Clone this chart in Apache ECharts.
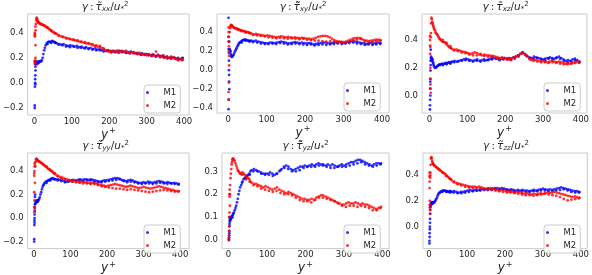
<!DOCTYPE html>
<html>
<head>
<meta charset="utf-8">
<script src="https://cdn.jsdelivr.net/npm/echarts@6/dist/echarts.min.js"></script>
<style>
  html, body { margin: 0; padding: 0; background: #fff; }
  #chart { width: 592px; height: 275px; }
</style>
</head>
<body>
<div id="chart"></div>
<script>
// y+ positions of the main strand and of the second strand
const yPlusA = [4,5,6,7,8,9,10,11,12,14,16,18,20,22,24,26,28,30,33,36,39,42,45,48,51,54,57,60,
    66,72,78,84,90,96,102,108,114,120,126,132,138,144,150,156,162,168,174,180,186,192,198,204,210,216,222,228,
    234,240,246,252,258,264,270,276,282,288,294,300,306,312,318,324,330,336,342,348,354,360,366,372,378,384,390,396];
const yPlusB = [35,45,55,65,75,85,95,105,115,125,135,145,155,165,175,185,195,205,215,225,235,245,255,265,275,285,
    295,305,315,325,335,345,355,365,375,385,395];

// tau_xx
const xxM1 = [0.16,0.15,0.17,0.16,0.15,0.16,0.17,0.16,0.165,0.17,0.175,0.17,0.18,0.2,0.23,0.26,0.28,0.3,0.315,0.325,0.33,0.325,0.33,0.335,0.33,0.325,0.32,0.315,
    0.31,0.305,0.31,0.3,0.295,0.3,0.295,0.29,0.295,0.285,0.29,0.28,0.285,0.275,0.28,0.27,0.275,0.265,0.27,0.26,0.265,0.255,0.26,0.25,0.255,0.245,0.25,0.255,
    0.245,0.25,0.24,0.245,0.25,0.24,0.235,0.24,0.23,0.235,0.225,0.23,0.225,0.22,0.225,0.215,0.22,0.21,0.215,0.205,0.21,0.2,0.205,0.2,0.195,0.2,0.19,0.2];
const xxM1b = [0.31,0.32,0.32,0.305,0.3,0.29,0.285,0.29,0.28,0.28,0.275,0.27,0.265,0.26,0.26,0.25,0.255,0.245,0.25,0.24,0.25,0.24,0.235,0.24,0.23,0.225,
    0.23,0.22,0.225,0.21,0.215,0.205,0.2,0.195,0.2,0.19,0.195];
const xxM1w = [[1,-0.2],[1,-0.18],[1.5,-0.03],[2,0],[2,0.03],[2.5,0.06],[3,0.1],[3,0.13],[3.5,0.16],[2,0.17],[1.5,0.15],[2.5,-0.01]];
const xxM2 = [0.47,0.5,0.52,0.515,0.5,0.49,0.485,0.48,0.48,0.475,0.47,0.47,0.465,0.465,0.46,0.46,0.455,0.45,0.445,0.44,0.43,0.425,0.415,0.41,0.405,0.4,0.395,0.39,
    0.38,0.37,0.365,0.36,0.355,0.35,0.345,0.34,0.335,0.33,0.325,0.32,0.315,0.315,0.31,0.3,0.295,0.29,0.285,0.28,0.265,0.255,0.25,0.255,0.25,0.245,0.26,0.25,
    0.255,0.245,0.25,0.24,0.245,0.235,0.24,0.23,0.24,0.225,0.23,0.22,0.225,0.215,0.22,0.21,0.225,0.205,0.215,0.2,0.21,0.2,0.195,0.205,0.19,0.18,0.19,0.185];
const xxM2b = [0.44,0.42,0.395,0.375,0.37,0.355,0.35,0.345,0.34,0.33,0.325,0.315,0.31,0.3,0.295,0.275,0.26,0.245,0.255,0.245,0.25,0.255,0.24,0.245,0.235,0.23,
    0.225,0.23,0.215,0.25,0.21,0.22,0.195,0.21,0.195,0.185,0.18];
const xxM2w = [[1,0.38],[1,0.4],[1.5,0.37],[2,0.39],[1,0.17],[1.5,0.16],[2,0.18],[2.5,0.15],[3,0.2],[3,0.3],[3.5,0.42],[2.5,0.45]];

// tau_xy
const xyM1 = [0.22,0.2,0.2,0.17,0.15,0.14,0.14,0.145,0.15,0.16,0.18,0.2,0.215,0.23,0.25,0.265,0.28,0.29,0.3,0.31,0.315,0.32,0.32,0.315,0.31,0.31,0.305,0.31,
    0.305,0.31,0.3,0.295,0.29,0.285,0.28,0.29,0.29,0.285,0.29,0.295,0.3,0.295,0.29,0.28,0.285,0.29,0.295,0.29,0.285,0.29,0.285,0.28,0.285,0.28,0.27,0.275,
    0.28,0.285,0.29,0.29,0.285,0.28,0.285,0.29,0.29,0.295,0.29,0.285,0.29,0.295,0.3,0.305,0.3,0.295,0.29,0.285,0.28,0.275,0.28,0.285,0.28,0.285,0.29,0.285];
const xyM1b = [0.29,0.31,0.3,0.295,0.29,0.28,0.275,0.275,0.28,0.275,0.285,0.28,0.27,0.275,0.28,0.275,0.27,0.265,0.27,0.26,0.265,0.27,0.265,0.27,0.275,0.28,
    0.275,0.28,0.285,0.29,0.28,0.275,0.265,0.27,0.265,0.27,0.275];
const xyM1w = [[1,0.55],[1,0.35],[1.5,0.3],[1.5,0.22],[2,0.1],[2,0],[2.5,-0.05],[2.5,-0.12],[3,-0.2],[1,-0.41],[1.5,-0.31],[2,0.18]];
const xyM2 = [0.4,0.44,0.46,0.47,0.475,0.47,0.465,0.46,0.455,0.45,0.445,0.44,0.44,0.435,0.43,0.43,0.425,0.42,0.42,0.415,0.41,0.41,0.405,0.4,0.4,0.395,0.39,0.385,
    0.375,0.38,0.375,0.37,0.365,0.36,0.365,0.36,0.355,0.35,0.345,0.35,0.355,0.35,0.345,0.35,0.345,0.34,0.345,0.34,0.335,0.34,0.335,0.33,0.33,0.325,0.33,0.34,
    0.35,0.355,0.36,0.36,0.355,0.345,0.33,0.315,0.305,0.3,0.3,0.295,0.3,0.31,0.32,0.33,0.335,0.34,0.335,0.325,0.315,0.31,0.305,0.31,0.315,0.32,0.32,0.315];
const xyM2b = [0.41,0.395,0.39,0.37,0.365,0.36,0.355,0.345,0.34,0.335,0.34,0.335,0.33,0.335,0.33,0.325,0.33,0.32,0.315,0.31,0.31,0.305,0.3,0.305,0.3,0.295,
    0.29,0.29,0.3,0.31,0.32,0.33,0.3,0.295,0.3,0.305,0.31];
const xyM2w = [[1,0.45],[1,0.4],[1.5,0.35],[1.5,0.3],[2,0.25],[2,0.2],[2.5,0.15],[1,-0.23],[1.5,-0.31],[2,-0.13],[2.5,0.05],[3,0.3]];

// tau_xz
const xzM1 = [0.28,0.26,0.27,0.25,0.26,0.24,0.23,0.22,0.21,0.2,0.2,0.205,0.21,0.215,0.22,0.225,0.22,0.225,0.23,0.225,0.23,0.235,0.23,0.235,0.24,0.235,0.24,0.245,
    0.25,0.245,0.25,0.255,0.26,0.265,0.26,0.255,0.25,0.255,0.26,0.25,0.255,0.26,0.255,0.26,0.265,0.27,0.27,0.265,0.26,0.265,0.27,0.265,0.27,0.265,0.275,0.28,
    0.29,0.3,0.31,0.3,0.285,0.275,0.27,0.28,0.275,0.27,0.265,0.26,0.265,0.27,0.275,0.27,0.265,0.275,0.28,0.27,0.26,0.25,0.255,0.25,0.26,0.265,0.255,0.245];
const xzM1b = [0.22,0.225,0.23,0.24,0.245,0.25,0.255,0.25,0.245,0.25,0.245,0.25,0.255,0.26,0.265,0.255,0.26,0.26,0.26,0.27,0.285,0.305,0.29,0.27,0.265,0.27,
    0.26,0.255,0.265,0.26,0.27,0.265,0.25,0.24,0.245,0.255,0.24];
const xzM1w = [[1,-0.1],[1,-0.07],[1.5,-0.03],[1.5,0.05],[2,0.1],[2,0.12],[2.5,0.18],[3,0.22],[3,0.33],[2,0],[2.5,0.25],[3.5,0.27]];
const xzM2 = [0.52,0.56,0.55,0.53,0.52,0.51,0.5,0.49,0.48,0.47,0.455,0.445,0.44,0.43,0.42,0.41,0.405,0.4,0.39,0.385,0.385,0.38,0.37,0.36,0.35,0.345,0.34,0.335,
    0.33,0.33,0.325,0.32,0.315,0.31,0.305,0.3,0.305,0.31,0.305,0.295,0.29,0.285,0.29,0.29,0.285,0.285,0.28,0.275,0.27,0.275,0.27,0.265,0.26,0.265,0.275,0.28,
    0.29,0.3,0.305,0.295,0.28,0.265,0.255,0.26,0.255,0.25,0.245,0.25,0.245,0.24,0.245,0.25,0.245,0.24,0.245,0.24,0.235,0.23,0.235,0.23,0.235,0.24,0.245,0.24];
const xzM2b = [0.4,0.38,0.355,0.325,0.32,0.31,0.305,0.295,0.29,0.29,0.3,0.295,0.28,0.28,0.27,0.265,0.265,0.26,0.255,0.265,0.28,0.31,0.29,0.26,0.25,0.245,
    0.24,0.24,0.235,0.24,0.235,0.23,0.225,0.225,0.23,0.235,0.235];
const xzM2w = [[1,0.43],[1,0.4],[1.5,0.36],[1.5,0.3],[2,0.2],[2,0.12],[2.5,0.08],[2.5,0.05],[3,0.02],[3,0.42],[3.5,0.45],[2,0.35]];

// tau_yy
const yyM1 = [0.12,0.14,0.13,0.14,0.15,0.14,0.15,0.14,0.15,0.16,0.175,0.2,0.22,0.245,0.265,0.28,0.29,0.3,0.31,0.315,0.32,0.325,0.33,0.335,0.34,0.335,0.33,0.33,
    0.33,0.325,0.32,0.315,0.31,0.315,0.32,0.325,0.32,0.325,0.33,0.325,0.33,0.33,0.325,0.33,0.325,0.32,0.315,0.31,0.315,0.32,0.32,0.325,0.33,0.335,0.34,0.34,
    0.335,0.325,0.32,0.315,0.32,0.325,0.32,0.31,0.305,0.3,0.3,0.305,0.3,0.31,0.305,0.3,0.305,0.31,0.315,0.31,0.305,0.3,0.305,0.3,0.295,0.3,0.295,0.29];
const yyM1b = [0.3,0.32,0.33,0.32,0.315,0.305,0.31,0.31,0.315,0.32,0.315,0.32,0.32,0.31,0.305,0.305,0.31,0.315,0.32,0.325,0.33,0.315,0.305,0.31,0.305,0.295,
    0.29,0.295,0.295,0.29,0.295,0.3,0.295,0.29,0.295,0.29,0.285];
const yyM1w = [[1,-0.2],[1,-0.18],[1.5,-0.06],[1.5,-0.02],[2,0],[2,0.03],[2.5,0.06],[2.5,0.09],[3,0.12],[3,0.18],[3.5,0.2],[2,-0.04]];
const yyM2 = [0.44,0.48,0.5,0.505,0.5,0.495,0.49,0.49,0.485,0.48,0.48,0.475,0.47,0.465,0.46,0.455,0.45,0.445,0.44,0.43,0.42,0.415,0.41,0.4,0.395,0.385,0.38,0.37,
    0.36,0.35,0.345,0.335,0.33,0.325,0.32,0.315,0.315,0.31,0.305,0.31,0.305,0.3,0.3,0.295,0.3,0.295,0.29,0.285,0.28,0.275,0.27,0.275,0.28,0.285,0.29,0.285,
    0.28,0.275,0.27,0.265,0.27,0.275,0.27,0.265,0.26,0.255,0.26,0.265,0.26,0.255,0.25,0.255,0.26,0.265,0.27,0.265,0.26,0.255,0.25,0.245,0.24,0.235,0.23,0.23];
const yyM2b = [0.435,0.405,0.38,0.355,0.34,0.33,0.32,0.31,0.305,0.3,0.295,0.295,0.29,0.29,0.28,0.27,0.265,0.26,0.255,0.25,0.25,0.245,0.24,0.245,0.24,0.235,
    0.23,0.225,0.22,0.225,0.23,0.235,0.24,0.235,0.23,0.225,0.225];
const yyM2w = [[1,0.38],[1,0.36],[1.5,0.4],[2,0.44],[1,0.22],[1.5,0.15],[2,0.1],[2.5,0.08],[3,0.3],[2.5,0.46],[3,0.47],[1.5,0.05]];

// tau_yz
const yzM1 = [0.085,0.09,0.1,0.095,0.1,0.105,0.1,0.11,0.115,0.12,0.13,0.14,0.15,0.165,0.18,0.2,0.215,0.23,0.24,0.255,0.265,0.27,0.275,0.28,0.285,0.29,0.3,0.305,
    0.31,0.305,0.3,0.295,0.29,0.29,0.29,0.295,0.29,0.285,0.29,0.3,0.31,0.32,0.325,0.32,0.31,0.305,0.31,0.315,0.32,0.32,0.325,0.32,0.325,0.33,0.325,0.33,
    0.335,0.33,0.33,0.325,0.33,0.325,0.33,0.325,0.32,0.325,0.33,0.325,0.33,0.335,0.34,0.34,0.345,0.35,0.35,0.345,0.34,0.335,0.33,0.325,0.33,0.335,0.335,0.335];
const yzM1b = [0.25,0.27,0.285,0.3,0.3,0.29,0.285,0.285,0.28,0.29,0.305,0.315,0.31,0.3,0.3,0.305,0.315,0.32,0.32,0.32,0.325,0.325,0.32,0.315,0.315,0.32,
    0.32,0.32,0.325,0.33,0.335,0.34,0.33,0.325,0.32,0.325,0.33];
const yzM1w = [[1,0],[1,0.005],[1.5,0.01],[1.5,0.02],[2,0.03],[2,0.04],[2.5,0.06],[2.5,0.07],[3,0.08],[3,0.1],[3.5,0.1],[3.5,0.09]];
const yzM2 = [0.24,0.27,0.29,0.31,0.33,0.34,0.35,0.355,0.355,0.35,0.345,0.335,0.325,0.315,0.305,0.3,0.295,0.29,0.29,0.295,0.29,0.285,0.28,0.275,0.27,0.265,0.255,0.25,
    0.245,0.245,0.24,0.235,0.23,0.235,0.23,0.225,0.22,0.225,0.23,0.22,0.215,0.21,0.205,0.21,0.205,0.2,0.195,0.19,0.185,0.18,0.18,0.175,0.175,0.18,0.175,0.185,
    0.19,0.195,0.195,0.19,0.185,0.18,0.175,0.17,0.165,0.16,0.155,0.155,0.16,0.165,0.16,0.16,0.165,0.16,0.155,0.16,0.155,0.155,0.15,0.145,0.14,0.135,0.14,0.145];
const yzM2b = [0.285,0.265,0.255,0.24,0.235,0.225,0.22,0.215,0.21,0.215,0.205,0.2,0.2,0.195,0.185,0.175,0.17,0.17,0.165,0.175,0.185,0.185,0.18,0.175,0.17,0.16,
    0.15,0.145,0.15,0.15,0.145,0.15,0.145,0.14,0.13,0.13,0.14];
const yzM2w = [[1,0],[1,0.01],[1.5,0.02],[1.5,0.04],[2,0.06],[2,0.1],[2.5,0.12],[2.5,0.19],[3,0.2],[3,0.22],[3.5,0.2],[3.5,0.15]];

// tau_zz
const zzM1 = [0.17,0.18,0.17,0.19,0.18,0.185,0.18,0.19,0.185,0.19,0.2,0.21,0.22,0.235,0.25,0.26,0.265,0.27,0.275,0.28,0.28,0.28,0.275,0.275,0.27,0.275,0.275,0.27,
    0.275,0.27,0.265,0.27,0.27,0.275,0.28,0.285,0.28,0.285,0.28,0.285,0.29,0.29,0.29,0.295,0.29,0.295,0.3,0.3,0.295,0.3,0.295,0.29,0.285,0.29,0.285,0.28,
    0.285,0.28,0.285,0.28,0.28,0.275,0.28,0.285,0.28,0.285,0.29,0.295,0.29,0.285,0.29,0.285,0.29,0.295,0.3,0.305,0.3,0.295,0.29,0.285,0.28,0.275,0.275,0.27];
const zzM1b = [0.27,0.27,0.265,0.265,0.26,0.26,0.265,0.27,0.275,0.28,0.28,0.285,0.285,0.29,0.29,0.29,0.29,0.285,0.28,0.275,0.275,0.275,0.27,0.27,0.275,0.275,
    0.28,0.28,0.275,0.275,0.28,0.285,0.29,0.28,0.27,0.265,0.265];
const zzM1w = [[1,-0.13],[1,-0.11],[1.5,-0.08],[1.5,-0.05],[2,-0.02],[2,0],[2.5,0.03],[2.5,0.06],[3,0.1],[3,0.13],[3.5,0.15],[3.5,0.16]];
const zzM2 = [0.48,0.53,0.54,0.53,0.51,0.5,0.49,0.485,0.48,0.475,0.47,0.465,0.46,0.455,0.45,0.445,0.44,0.435,0.43,0.42,0.415,0.41,0.4,0.39,0.385,0.375,0.37,0.36,
    0.35,0.34,0.335,0.33,0.325,0.32,0.315,0.31,0.31,0.31,0.305,0.31,0.305,0.3,0.295,0.3,0.3,0.295,0.29,0.285,0.28,0.285,0.28,0.275,0.27,0.275,0.27,0.265,
    0.27,0.265,0.26,0.255,0.26,0.255,0.25,0.255,0.25,0.255,0.26,0.255,0.26,0.265,0.26,0.265,0.27,0.265,0.26,0.255,0.25,0.245,0.24,0.235,0.23,0.235,0.23,0.225];
const zzM2b = [0.42,0.395,0.37,0.345,0.33,0.32,0.31,0.305,0.3,0.3,0.295,0.29,0.29,0.285,0.28,0.275,0.27,0.265,0.265,0.26,0.255,0.25,0.245,0.245,0.24,0.245,
    0.25,0.255,0.25,0.245,0.24,0.23,0.215,0.205,0.21,0.215,0.22];
const zzM2w = [[1,0.42],[1,0.39],[1.5,0.35],[1.5,0.3],[2,0.2],[2,0.15],[2.5,0.1],[2.5,0.13],[3,0.38],[3,0.4],[3.5,0.42],[2,0.17]];

// panel titles (component subscripts) and tick labels
const components = ["xx", "xy", "xz", "yy", "yz", "zz"];
const doubleTilde = [false, true, false, false, true, false];
const xTicks = [0, 100, 200, 300, 400];
const yTicks = [
    [-0.2, 0.0, 0.2, 0.4],
    [-0.4, -0.2, 0.0, 0.2, 0.4],
    [0.0, 0.2, 0.4],
    [-0.2, 0.0, 0.2, 0.4],
    [0.0, 0.1, 0.2, 0.3],
    [0.0, 0.2, 0.4],
];
const seriesM1 = [[xxM1, xxM1b, xxM1w], [xyM1, xyM1b, xyM1w], [xzM1, xzM1b, xzM1w], [yyM1, yyM1b, yyM1w], [yzM1, yzM1b, yzM1w], [zzM1, zzM1b, zzM1w]];
const seriesM2 = [[xxM2, xxM2b, xxM2w], [xyM2, xyM2b, xyM2w], [xzM2, xzM2b, xzM2w], [yyM2, yyM2b, yyM2w], [yzM2, yzM2b, yzM2w], [zzM2, zzM2b, zzM2w]];

// plot boxes in pixels [left, top, right, bottom] and axis ranges
const boxes = [
    [21, 14, 189, 115], [217, 14, 389, 113], [422, 14, 589, 113],
    [22, 153, 189, 255], [222, 153, 389, 255], [423, 153, 589, 255],
];
const xRanges = [[-18, 413], [-29, 418], [-20, 416], [-17, 424], [-17, 417], [-16, 417]];
const yRanges = [[-0.256, 0.55], [-0.45, 0.59], [-0.125, 0.587], [-0.26, 0.554], [-0.037, 0.38], [-0.17, 0.572]];

const FONT = "DejaVu Sans";
const INK = "#262626";

function points(main, second, wall) {
    const pts = wall.slice();
    main.forEach((v, i) => pts.push([yPlusA[i], v]));
    second.forEach((v, i) => pts.push([yPlusB[i], v]));
    return pts;
}

function fmt(v) {
    return v.toFixed(1).replace("-", "\u2212");
}

function buildOption() {
    const grid = [], xAxis = [], yAxis = [], series = [], title = [], legend = [];
    for (let i = 0; i < 6; i++) {
        const [l, t, r, b] = boxes[i];
        grid.push({ left: l, top: t, width: r - l, height: b - t, show: true, borderColor: "#cccccc", borderWidth: 1 });
        xAxis.push({
            gridIndex: i, type: "value", min: xRanges[i][0], max: xRanges[i][1],
            splitLine: { show: false }, axisLine: { show: false }, axisTick: { show: false },
            axisLabel: { customValues: xTicks, fontFamily: FONT, fontSize: 8.5, color: INK, margin: 2 },
            name: "{i|y}{s|+}", nameLocation: "middle", nameGap: 5,
            nameTextStyle: {
                rich: {
                    i: { fontFamily: FONT, fontStyle: "italic", fontSize: 12, color: INK },
                    s: { fontFamily: FONT, fontSize: 8, color: INK, verticalAlign: "top", padding: [0, 0, 7, 1] },
                },
            },
        });
        yAxis.push({
            gridIndex: i, type: "value", min: yRanges[i][0], max: yRanges[i][1],
            splitLine: { show: false }, axisLine: { show: false }, axisTick: { show: false },
            axisLabel: { customValues: yTicks[i], formatter: fmt, fontFamily: FONT, fontSize: 8.5, color: INK, margin: 4 },
        });
        const tau = doubleTilde[i] ? "\u03c4\u0303\u0303" : "\u03c4\u0303";
        const base = { fontFamily: FONT, fontWeight: "normal", color: INK };
        title.push({
            text: `{g|\u03b3}{n|\u2009:\u2009}{g|${tau}}{s|${components[i]}}{n|/}{g|u}{s|*}{p|2}`,
            left: (l + r) / 2, top: t - 13, textAlign: "center", padding: 0,
            textStyle: {
                fontWeight: "normal",
                rich: {
                    g: { ...base, fontStyle: "italic", fontSize: 10.5, lineHeight: 12 },
                    n: { ...base, fontSize: 10.5, lineHeight: 12 },
                    s: { ...base, fontStyle: "italic", fontSize: 7, verticalAlign: "bottom", lineHeight: 8, padding: [4, 0, 0, 0] },
                    p: { ...base, fontSize: 7, verticalAlign: "top", lineHeight: 8, padding: [0, 0, 2, 0] },
                },
            },
        });
        legend.push({
            data: ["M1", "M2"], orient: "vertical", left: r - 45, top: b - 30,
            itemWidth: 14, itemHeight: 3, itemGap: 4, padding: [3, 4, 3, 2],
            borderColor: "#cccccc", borderWidth: 1, borderRadius: 3, backgroundColor: "rgba(255,255,255,0.8)",
            textStyle: { fontFamily: FONT, fontSize: 8.5, color: INK, padding: [0, 0, 0, 4] },
            selectedMode: false,
        });
        series.push({
            name: "M1", type: "scatter", xAxisIndex: i, yAxisIndex: i, symbol: "circle", symbolSize: 2.8,
            itemStyle: { color: "#0000ff" }, data: points(...seriesM1[i]), animation: false,
        });
        series.push({
            name: "M2", type: "scatter", xAxisIndex: i, yAxisIndex: i, symbol: "circle", symbolSize: 2.8,
            itemStyle: { color: "#ff0000" }, data: points(...seriesM2[i]), animation: false,
        });
    }
    return { animation: false, backgroundColor: "#ffffff", grid, xAxis, yAxis, series, title, legend };
}

const chart = echarts.init(document.getElementById("chart"), null, { renderer: "canvas" });
chart.setOption(buildOption());
</script>
</body>
</html>
